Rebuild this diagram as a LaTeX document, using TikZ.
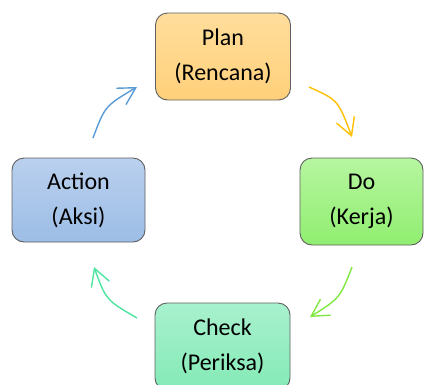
\documentclass[tikz,border=0pt]{standalone}
\usepackage{fontspec}
\setmainfont{Carlito}
\usetikzlibrary{arrows.meta}
\definecolor{planT}{HTML}{FFDD9C}
\definecolor{planB}{HTML}{FFD07A}
\definecolor{doT}{HTML}{B6F6A0}
\definecolor{doB}{HTML}{90EE70}
\definecolor{chkT}{HTML}{A8F1CE}
\definecolor{chkB}{HTML}{84EAB6}
\definecolor{actT}{HTML}{BAD0EE}
\definecolor{actB}{HTML}{9CBDE6}
\definecolor{bord}{HTML}{5F5F5F}
\definecolor{aBlue}{HTML}{5B9BD5}
\definecolor{aOrange}{HTML}{FFC000}
\definecolor{aGreen}{HTML}{80E840}
\definecolor{aTeal}{HTML}{4EE3A0}
\tikzset{
  stagebox/.style={draw=bord, line width=0.9pt, rounded corners=12pt,
    minimum width=135pt, minimum height=87pt, align=center,
    font=\fontsize{24}{35}\selectfont, text=black},
  cyc/.style={line width=1.4pt, -{Straight Barb[length=17pt,width=19pt]}}
}
\begin{document}
\begin{tikzpicture}[x=1pt,y=-1pt]
\useasboundingbox (0,0) rectangle (425,384);
\node[stagebox, top color=planT, bottom color=planB] (plan) at (223,56.5) {Plan\\(Rencana)};
\node[stagebox, top color=doT, bottom color=doB, minimum width=123pt] (do) at (361.5,201.5) {Do\\(Kerja)};
\node[stagebox, top color=chkT, bottom color=chkB] (check) at (222.5,346.5) {Check\\(Periksa)};
\node[stagebox, top color=actT, bottom color=actB, minimum width=133pt, minimum height=84pt] (action) at (78.5,200) {Action\\(Aksi)};
\coordinate (b1) at (93,138); \coordinate (b2) at (137,87);
\coordinate (o1) at (309,87); \coordinate (o2) at (352,137);
\coordinate (g1) at (352,267); \coordinate (g2) at (310,317);
\coordinate (t1) at (137,318); \coordinate (t2) at (94,267);
\draw[cyc, aBlue] (b1) .. controls (105,106) .. (b2);
\draw[cyc, aOrange] (o1) .. controls (338,100) .. (o2);
\draw[cyc, aGreen] (g1) .. controls (340,298) .. (g2);
\draw[cyc, aTeal] (t1) .. controls (106,300) .. (t2);
\end{tikzpicture}
\end{document}
